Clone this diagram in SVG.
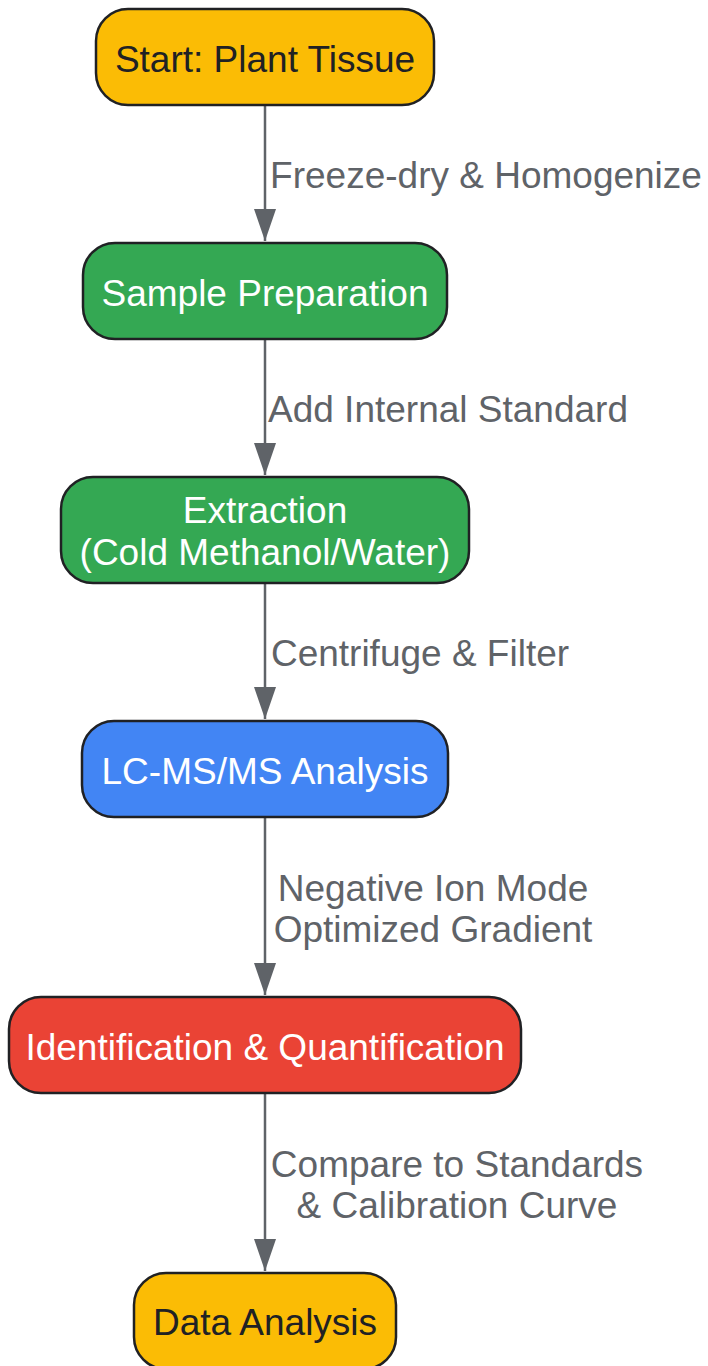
<svg xmlns="http://www.w3.org/2000/svg" width="708" height="1366" viewBox="0 0 708 1366">
<defs>
<marker id="ah" markerUnits="userSpaceOnUse" markerWidth="32" markerHeight="22" refX="32" refY="11" orient="auto" viewBox="0 0 32 22">
<path d="M0,0 L32,11 L0,22 Z" fill="#5F6368"/>
</marker>
<style>
.node{stroke:#202124;stroke-width:2.5}
.t{font-family:"Liberation Sans",Arial,sans-serif;font-size:37px;text-anchor:middle}
.dark{fill:#202124}
.light{fill:#ffffff}
.el{font-family:"Liberation Sans",Arial,sans-serif;font-size:37px;text-anchor:middle;fill:#5F6368}
.edge{stroke:#5F6368;stroke-width:2.5;fill:none}
</style>
</defs>
<rect width="708" height="1366" fill="#ffffff"/>
<g id="connectors">
<line class="edge" x1="265" y1="105" x2="265" y2="241" marker-end="url(#ah)"/>
<line class="edge" x1="265" y1="339" x2="265" y2="475" marker-end="url(#ah)"/>
<line class="edge" x1="265" y1="583" x2="265" y2="719" marker-end="url(#ah)"/>
<line class="edge" x1="265" y1="817" x2="265" y2="995" marker-end="url(#ah)"/>
<line class="edge" x1="265" y1="1093" x2="265" y2="1271" marker-end="url(#ah)"/>
<text class="el" x="486" y="188">Freeze-dry &amp; Homogenize</text>
<text class="el" x="448" y="422">Add Internal Standard</text>
<text class="el" x="420" y="666">Centrifuge &amp; Filter</text>
<text class="el" x="433" y="901">Negative Ion Mode</text>
<text class="el" x="433" y="942">Optimized Gradient</text>
<text class="el" x="457" y="1177">Compare to Standards</text>
<text class="el" x="457" y="1218">&amp; Calibration Curve</text>
</g>
<g id="start">
<rect class="node" x="96" y="9" width="338" height="96" rx="32" fill="#FBBC05"/>
<text class="t dark" x="265" y="72">Start: Plant Tissue</text>
</g>
<g id="prep">
<rect class="node" x="83" y="243" width="364" height="96" rx="32" fill="#34A853"/>
<text class="t light" x="265" y="306">Sample Preparation</text>
</g>
<g id="extraction">
<rect class="node" x="61" y="477" width="408" height="106" rx="32" fill="#34A853"/>
<text class="t light" x="265" y="523">Extraction</text>
<text class="t light" x="265" y="565">(Cold Methanol/Water)</text>
</g>
<g id="lcms">
<rect class="node" x="82" y="721" width="366" height="96" rx="32" fill="#4285F4"/>
<text class="t light" x="265" y="784">LC-MS/MS Analysis</text>
</g>
<g id="ident">
<rect class="node" x="9" y="997" width="512" height="96" rx="32" fill="#EA4335"/>
<text class="t light" x="265" y="1060">Identification &amp; Quantification</text>
</g>
<g id="data">
<rect class="node" x="134" y="1273" width="262" height="96" rx="32" fill="#FBBC05"/>
<text class="t dark" x="265" y="1335">Data Analysis</text>
</g>
</svg>
